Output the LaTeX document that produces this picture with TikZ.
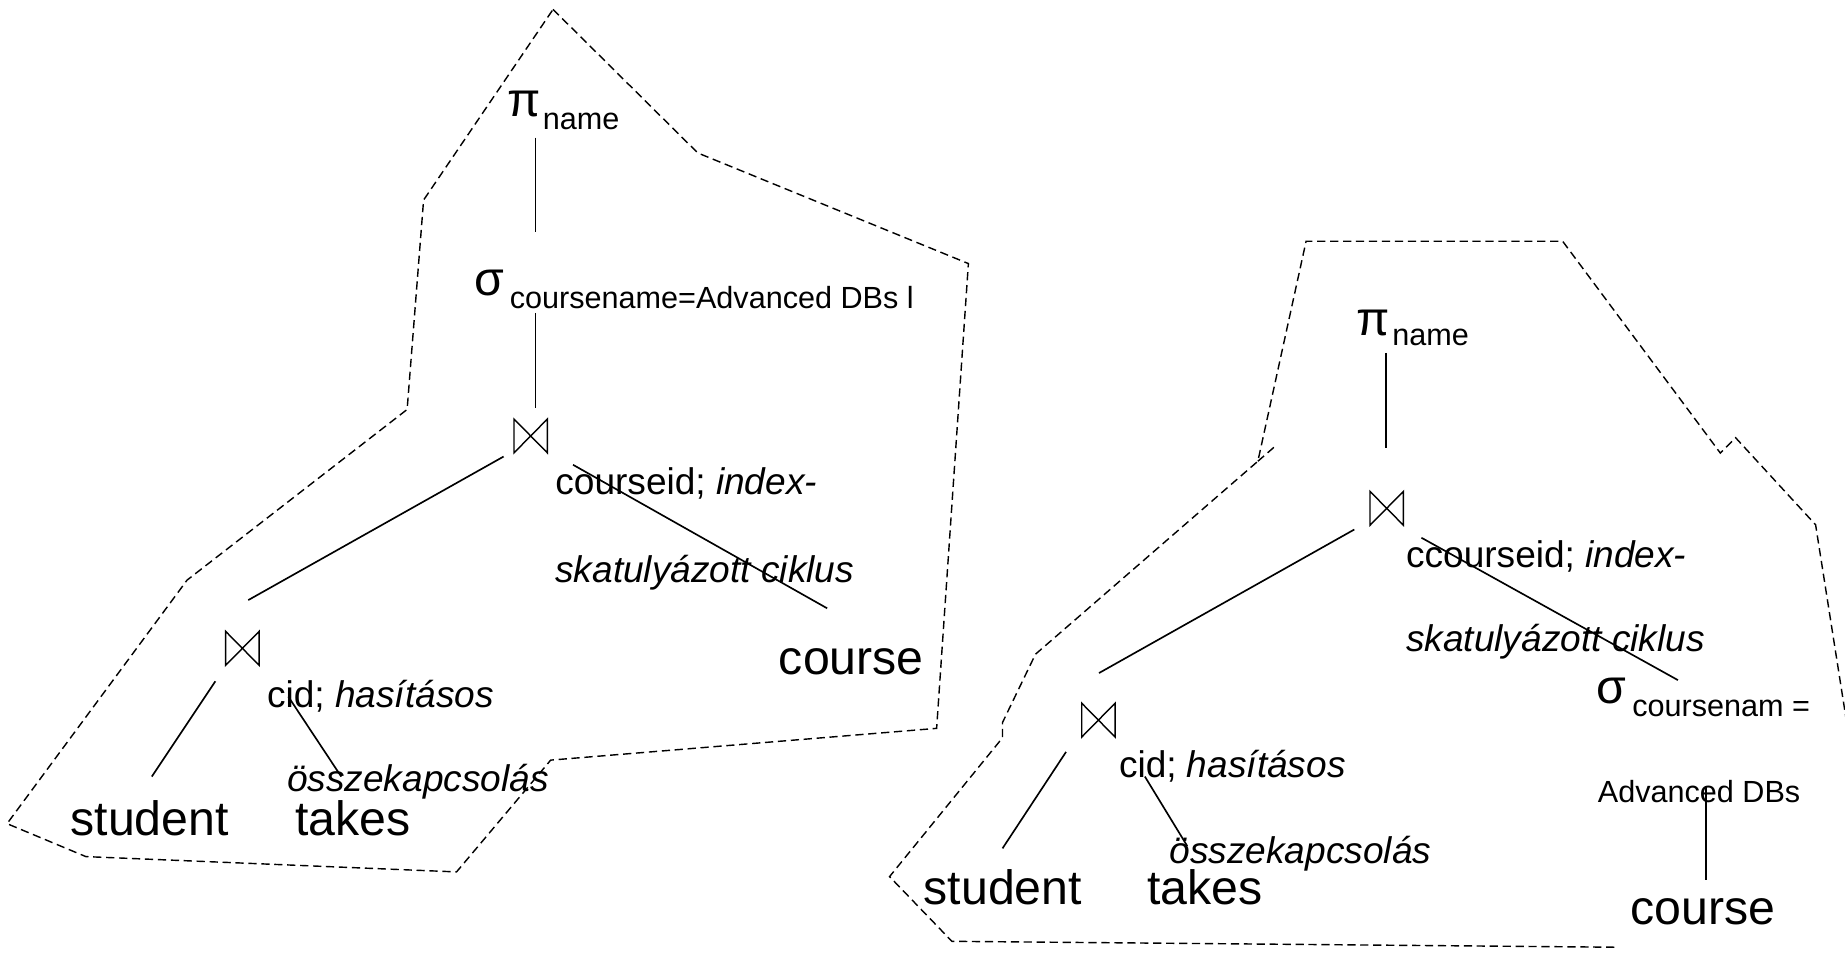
\documentclass[tikz,border=0pt]{standalone}
\usepackage{fontspec}
\setmainfont{Liberation Sans}
\newcommand\bigf{\fontsize{20.5}{24}\selectfont}
\newcommand\midf{\fontsize{15.75}{19}\selectfont}
\newcommand\subf{\fontsize{13}{16}\selectfont}
\newcommand\drawbowtie[1]{\draw[bt] (#1.north west) -- (#1.south west) -- (#1.north east) -- (#1.south east) -- cycle;}
\begin{document}
\begin{tikzpicture}[x=0.5pt,y=-0.5pt,
  lbl/.style={anchor=base west, inner sep=0pt, outer sep=0pt},
  tbig/.style={lbl, font=\bigf},
  tmid/.style={lbl, font=\midf},
  tsub/.style={lbl, font=\subf},
  jnode/.style={minimum width=13.8pt, minimum height=14pt, inner sep=0pt},
  bt/.style={line width=0.6pt, line join=miter},
  conn/.style={line width=0.7pt},
  region/.style={line width=0.6pt, dash pattern=on 3.5pt off 2pt}]
\useasboundingbox (0,0) rectangle (1568,812);
\clip (0,0) rectangle (1568,812);

% ---------------- left tree ----------------
\node[tbig] (p1) at (431,99) {π\hspace{1pt}\raisebox{-5.5pt}{\subf name}};
\node[tbig] (s1) at (403,251) {σ\hspace{2.5pt}\raisebox{-5.5pt}{\subf coursename=Advanced DBs l}};
\node[jnode] (j1) at (451,370.5) {};
\drawbowtie{j1}
\node[tmid] (a1) at (472,420) {courseid; \textit{index-}};
\node[tmid] (b1) at (472,495) {\textit{skatulyázott ciklus}};
\node[tbig] (c1) at (662,573) {course};
\node[jnode] (j2) at (206,551) {};
\drawbowtie{j2}
\node[tmid] (h1) at (227,601) {cid; \textit{hasításos}};
\node[tmid] (o1) at (244,673) {\textit{összekapcsolás}};
\node[tbig] (st1) at (60,710) {student};
\node[tbig] (tk1) at (251,710) {takes};

\coordinate (p1b) at (455,117);  \coordinate (s1t) at (455,197);
\coordinate (s1b) at (455,266);  \coordinate (j1t) at (455,347);
\coordinate (j1l) at (428,388);  \coordinate (j2t) at (211,510);
\coordinate (j1r) at (487,395);  \coordinate (c1t) at (703,517);
\coordinate (j2l) at (183,579);  \coordinate (st1t) at (129,660);
\coordinate (j2r) at (245,592);  \coordinate (tk1t) at (290,660);
\draw[conn] (p1b) -- (s1t);
\draw[conn] (s1b) -- (j1t);
\draw[conn] (j1l) -- (j2t);
\draw[conn] (j1r) -- (c1t);
\draw[conn] (j2l) -- (st1t);
\draw[conn] (j2r) -- (tk1t);

\draw[region] (470,8) -- (593,130) -- (823,224) -- (796,619) -- (468,646)
  -- (388,741) -- (73,728) -- (6,700) -- (159,493) -- (346,348) -- (360,170) -- cycle;

% ---------------- right tree ----------------
\node[tbig] (p2) at (1153,285) {π\hspace{1pt}\raisebox{-4.5pt}{\subf name}};
\node[jnode] (j3) at (1178.5,432) {};
\drawbowtie{j3}
\node[tmid] (a2) at (1195,482) {ccourseid; \textit{index-}};
\node[tmid] (b2) at (1195,554) {\textit{skatulyázott ciklus}};
\node[tbig] (s2) at (1357,598) {σ\hspace{2.5pt}\raisebox{-5.5pt}{\subf coursenam =}};
\node[tsub] (ad2) at (1358,682) {Advanced DBs};
\node[tbig] (c2) at (1386,786) {course};
\node[jnode] (j4) at (933.5,612) {};
\drawbowtie{j4}
\node[tmid] (h2) at (951,661) {cid; \textit{hasításos}};
\node[tmid] (o2) at (994,734) {\textit{összekapcsolás}};
\node[tbig] (st2) at (785,769) {student};
\node[tbig] (tk2) at (975,769) {takes};

\coordinate (p2b) at (1178,300);  \coordinate (j3t) at (1178,381);
\coordinate (j3l) at (1151,450);  \coordinate (j4t) at (934,572);
\coordinate (j3r) at (1208,457);  \coordinate (s2t) at (1426,578);
\coordinate (s2b) at (1450,668);  \coordinate (c2t) at (1450,748);
\coordinate (j4l) at (906,639);   \coordinate (st2t) at (852,721);
\coordinate (j4r) at (973,660);   \coordinate (tk2t) at (1009,719);
\draw[conn] (p2b) -- (j3t);
\draw[conn] (j3l) -- (j4t);
\draw[conn] (j3r) -- (s2t);
\draw[conn] (s2b) -- (c2t);
\draw[conn] (j4l) -- (st2t);
\draw[conn] (j4r) -- (tk2t);

\draw[region] (1372,805) -- (809,800) -- (756,745) -- (852,627) -- (852,614)
  -- (880,556) -- (1069,392) -- (1110,205) -- (1328,205) -- (1462,385)
  -- (1475,372) -- (1543,446) -- (1568,605) -- (1585,720);
\draw[region] (1069,392) -- (1084,379);
\end{tikzpicture}
\end{document}
